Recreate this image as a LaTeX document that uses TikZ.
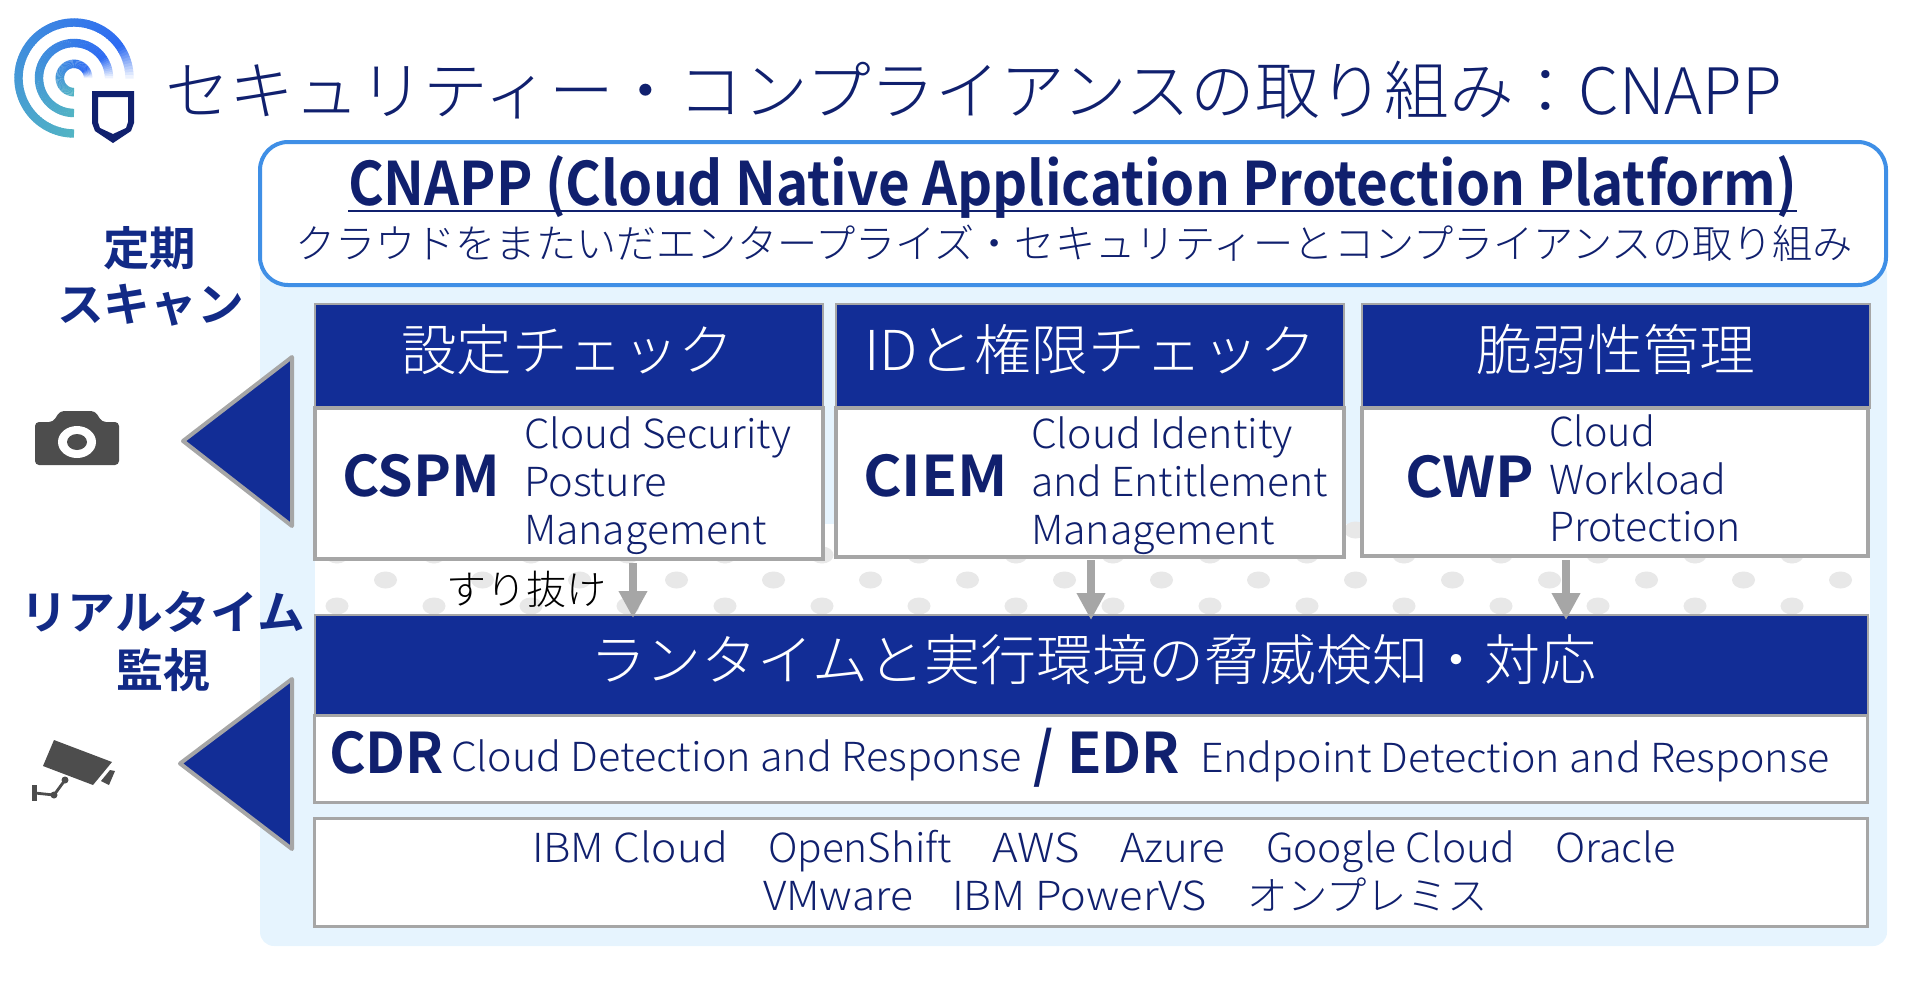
\documentclass[tikz,border=0pt]{standalone}
\usepackage{fontspec}
\usepackage{graphicx}
\setmainfont{Noto Sans CJK JP}[UprightFont={* Light},BoldFont={* Bold}]
\definecolor{navy}{HTML}{10206E}
\definecolor{barblue}{HTML}{122D96}
\definecolor{titleblue}{HTML}{122A86}
\definecolor{panelblue}{HTML}{E6F4FE}
\definecolor{edgeblue}{HTML}{3F8FE6}
\definecolor{edgegray}{HTML}{A6A6A6}
\definecolor{dotgray}{HTML}{E8E8E8}
\definecolor{icongray}{HTML}{4D4D4D}
\definecolor{logoT}{HTML}{52B4C4}
\definecolor{logoB}{HTML}{2F6CF2}
\newcommand{\fw}[3]{\resizebox{\dimexpr #1pt/2\relax}{\height}{\fontsize{#2}{#2}\selectfont\vphantom{Ayg(}#3}}
\usetikzlibrary{arrows.meta}
\tikzset{
  x=0.5pt,y=-0.5pt,
  lbl/.style={inner sep=0pt,outer sep=0pt,anchor=west,text=navy,yshift=-2.2pt},
  whitelbl/.style={lbl,text=white},
  sidelbl/.style={lbl,text=titleblue,font=\bfseries},
  bluebox/.style={draw=edgegray,line width=1pt,fill=barblue,inner sep=0pt,outer sep=0pt},
  whitebox/.style={draw=edgegray,line width=1.7pt,fill=white,inner sep=0pt,outer sep=0pt},
  gtri/.style={draw=edgegray,line width=2pt,fill=barblue,line join=round},
  flow/.style={draw=edgegray,line width=4.2pt,-{Triangle[width=13.5pt,length=13.5pt]}},
}
\begin{document}
\begin{tikzpicture}
\useasboundingbox (0,0) rectangle (1914,992);
% logo
\foreach \r in {55.5,35,14.2}{
  \foreach \a in {270,267,...,3}{
    \pgfmathsetmacro{\b}{\a-3.6}
    \pgfmathsetmacro{\pp}{min(100,(270-\a)/230*100)}
    \pgfmathsetmacro{\q}{min(1,\a/35)*100}
    \colorlet{segc}{logoB!\pp!logoT}
    \draw[draw=segc!\q!white,line width=4.2pt] ({74+\r*cos(\a)},{78-\r*sin(\a)}) -- ({74+\r*cos(\b)},{78-\r*sin(\b)});
  }
}
\fill[navy,even odd rule] (92,91) -- (134,91) -- (134,123) -- (131,131) -- (113,143) -- (95,131) -- (92,123) -- cycle
  (98,97) -- (128,97) -- (128,122) -- (126,128) -- (113,134) -- (100,128) -- (98,122) -- cycle;
% title
\node[lbl] (title) at (165,91) {\fw{1617}{32pt}{セキュリティー・コンプライアンスの取り組み：CNAPP}};
% panel
\fill[panelblue,rounded corners=7pt] (260,260) rectangle (1887,946);
% dotted band
\fill[white] (315,524) rectangle (1870,618);
\foreach \k in {0,...,15}{
  \fill[dotgray] ({385.5+97*\k},530) ellipse (11.5 and 8.5);
  \fill[dotgray] ({385.5+97*\k},580) ellipse (11.5 and 8.5);
  \fill[dotgray] ({337+97*\k},555) ellipse (11.5 and 8.5);
  \fill[dotgray] ({337+97*\k},606) ellipse (11.5 and 8.5);
}
% header
\node[draw=edgeblue,line width=2pt,fill=white,rounded corners=14pt,minimum width=813pt,minimum height=71.5pt,inner sep=0pt] (hdr) at (1073,213.5) {};
\node[lbl] (cnapp) at (348,184) {\fw{1449}{30pt}{\textbf{CNAPP (Cloud Native Application Protection Platform)}}};
\draw[navy,line width=1.3pt] (cnapp.west |- 0,211) -- (cnapp.east |- 0,211);
\node[lbl] (cnappsub) at (295,242) {\fw{1558}{20pt}{クラウドをまたいだエンタープライズ・セキュリティーとコンプライアンスの取り組み}};
% side labels
\node[sidelbl] (s1) at (103,247) {\fw{93}{23pt}{定期}};
\node[sidelbl] (s2) at (57,304) {\fw{187}{23pt}{スキャン}};
\node[sidelbl] (s3) at (20,611) {\fw{285}{23pt}{リアルタイム}};
\node[sidelbl] (s4) at (116,669) {\fw{94}{23pt}{監視}};
% triangles
\draw[gtri] (183,441) -- (292,357) -- (292,526) -- cycle;
\draw[gtri] (180,763.5) -- (292,679) -- (292,849) -- cycle;
% camera
\fill[icongray,rounded corners=2pt] (35,422) -- (53,422) -- (60,411) -- (95,411) -- (102,422) -- (119,422) -- (119,465) -- (35,465) -- cycle;
\fill[white] (77,442) ellipse (19 and 16);
\fill[icongray] (77,442) ellipse (10 and 8);
% security camera
\fill[icongray] (54,740) -- (112,762) -- (93,785) -- (43,766) -- cycle;
\fill[icongray] (110,770) -- (115,771) -- (109,785) -- (101,781) -- cycle;
\fill[icongray] (32,785) rectangle (37,801);
\draw[icongray,line width=1.4pt] (35,793) -- (54,795) -- (65,780);
\fill[icongray] (54,795) circle (3.5);
\fill[icongray] (65,780) circle (3.5);
% columns
\node[bluebox,minimum width=254pt,minimum height=52pt] (h1) at (569,356) {};
\node[bluebox,minimum width=254pt,minimum height=52pt] (h2) at (1090,356) {};
\node[bluebox,minimum width=254pt,minimum height=52pt] (h3) at (1616,356) {};
\node[whitelbl] (h1t) at (401,350) {\fw{333}{27.5pt}{設定チェック}};
\node[whitelbl] (h2t) at (864,350) {\fw{452}{27.5pt}{IDと権限チェック}};
\node[whitelbl] (h3t) at (1476,350) {\fw{279}{27.5pt}{脆弱性管理}};
\node[whitebox,minimum width=254pt,minimum height=75.5pt] (b1) at (569,483.5) {};
\node[whitebox,minimum width=254pt,minimum height=74.5pt] (b2) at (1090,482.5) {};
\node[whitebox,minimum width=253pt,minimum height=74pt] (b3) at (1615,482) {};
\node[lbl] (t1) at (342,477) {\fw{158}{28pt}{\textbf{CSPM}}};
\node[lbl] (t2) at (863,477) {\fw{145}{28pt}{\textbf{CIEM}}};
\node[lbl] (t3) at (1405,478) {\fw{129}{28pt}{\textbf{CWP}}};
\node[lbl] (t1a) at (524,433) {\fw{267}{20pt}{Cloud Security}};
\node[lbl] (t1b) at (524,481) {\fw{143}{20pt}{Posture}};
\node[lbl] (t1c) at (524,529) {\fw{243}{20pt}{Management}};
\node[lbl] (t2a) at (1031,433) {\fw{262}{20pt}{Cloud Identity}};
\node[lbl] (t2b) at (1031,481) {\fw{297}{20pt}{and Entitlement}};
\node[lbl] (t2c) at (1031,529) {\fw{244}{20pt}{Management}};
\node[lbl] (t3a) at (1549,431) {\fw{106}{20pt}{Cloud}};
\node[lbl] (t3b) at (1549,479) {\fw{177}{20pt}{Workload}};
\node[lbl] (t3c) at (1549,526) {\fw{192}{20pt}{Protection}};
% runtime
\node[bluebox,minimum width=776.5pt,minimum height=50pt] (rt) at (1091,665) {};
\node[whitelbl] (rtt) at (590,660) {\fw{1006}{27.5pt}{ランタイムと実行環境の脅威検知・対応}};
\node[whitebox,minimum width=776.5pt,minimum height=43.5pt] (cdr) at (1091,759) {};
\node[lbl] (c1) at (329,754) {\fw{115}{28pt}{\textbf{CDR}}};
\node[lbl] (c2) at (451,756) {\fw{571}{20pt}{Cloud Detection and Response}};
\node[lbl] (c3) at (1033,755) {\fw{20}{30pt}{\textbf{/}}};
\node[lbl] (c4) at (1067,754) {\fw{113}{28pt}{\textbf{EDR}}};
\node[lbl] (c5) at (1200,757) {\fw{630}{20pt}{Endpoint Detection and Response}};
\node[whitebox,minimum width=776.5pt,minimum height=54pt] (pf) at (1091,872.5) {};
\node[lbl] (p1) at (532,847) {\fw{196}{20pt}{IBM Cloud}};
\node[lbl] (p2) at (768,847) {\fw{184}{20pt}{OpenShift}};
\node[lbl] (p3) at (992,847) {\fw{88}{20pt}{AWS}};
\node[lbl] (p4) at (1120,847) {\fw{105}{20pt}{Azure}};
\node[lbl] (p5) at (1266,847) {\fw{249}{20pt}{Google Cloud}};
\node[lbl] (p6) at (1555,847) {\fw{121}{20pt}{Oracle}};
\node[lbl] (p7) at (763,895) {\fw{150}{20pt}{VMware}};
\node[lbl] (p8) at (952,895) {\fw{255}{20pt}{IBM PowerVS}};
\node[lbl] (p9) at (1247,895) {\fw{241}{20pt}{オンプレミス}};
% flows
\coordinate (f1) at (633,563);
\coordinate (f2) at (1091,560);
\coordinate (f3) at (1566,560);
\draw[flow,shorten >=-1.5pt] (f1) -- (f1 |- rt.north);
\draw[flow,shorten >=-2.5pt] (f2) -- (f2 |- rt.north);
\draw[flow,shorten >=-2.5pt] (f3) -- (f3 |- rt.north);
\node[lbl,text=black] (skip) at (446,588) {\fw{160}{20pt}{すり抜け}};
\end{tikzpicture}
\end{document}
